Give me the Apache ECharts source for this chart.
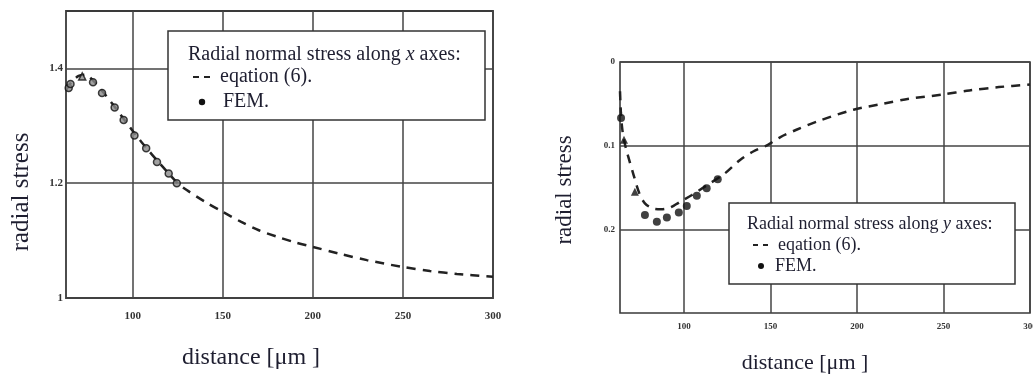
<!DOCTYPE html>
<html>
<head>
<meta charset="utf-8">
<script src="https://cdn.jsdelivr.net/npm/echarts@6/dist/echarts.min.js"></script>
<style>
html,body{margin:0;padding:0;background:#fff;}
#c{width:1033px;height:374px;}
</style>
</head>
<body>
<div id="c"></div>
<script>
// ---- Data ----
const leftXTicks = [100, 150, 200, 250, 300];
const leftYTicks = [1, 1.2, 1.4];
const rightXTicks = [100, 150, 200, 250, 300];
const rightYTicks = [0, 0.1, 0.2];

// Left: radial normal stress along x axes, equation (6)
const leftEqX = [63, 66, 70, 74, 78, 84, 90, 96, 102, 108, 114, 120, 125, 130, 140, 150, 160, 170, 180, 190, 200, 215, 230, 250, 265, 280, 300];
const leftEqY = [1.362, 1.376, 1.387, 1.389, 1.379, 1.357, 1.333, 1.308, 1.283, 1.26, 1.238, 1.217, 1.2, 1.188, 1.168, 1.15, 1.133, 1.118, 1.107, 1.097, 1.089, 1.077, 1.066, 1.054, 1.047, 1.042, 1.037];
// Left: FEM
const leftFemX = [64.5, 65.5, 72, 78, 83, 90, 95, 101, 107.5, 113.5, 120, 124.5];
const leftFemY = [1.366, 1.373, 1.386, 1.376, 1.357, 1.332, 1.31, 1.283, 1.261, 1.237, 1.217, 1.2];

// Right: radial normal stress along y axes, equation (6)
const rightEqX = [63, 63.5, 64.3, 65.5, 67.6, 71, 74, 77.4, 82, 87, 92, 97, 104.6, 112, 123.7, 132.4, 140, 148.5, 155.5, 165, 177, 198, 215, 230, 249, 265, 282, 300];
const rightEqY = [0.035, 0.06, 0.08, 0.095, 0.112, 0.136, 0.156, 0.169, 0.175, 0.176, 0.174, 0.168, 0.159, 0.149, 0.133, 0.117, 0.107, 0.099, 0.09, 0.081, 0.071, 0.057, 0.05, 0.044, 0.039, 0.034, 0.03, 0.027];
// Right: FEM
const rightFemX = [63.6, 65.3, 71.6, 77.4, 84.3, 90.1, 97, 101.6, 107.4, 113.1, 119.5];
const rightFemY = [0.067, 0.093, 0.155, 0.183, 0.191, 0.186, 0.18, 0.172, 0.16, 0.151, 0.14];

const zip = (xs, ys) => xs.map((x, i) => [x, ys[i]]);

const SERIF = 'Liberation Serif, Times New Roman, serif';
const INK = '#1e1e30';
const GRID = '#454545';

function xAxisCfg(gi, ticks, fs, margin) {
  return {
    type: 'value', gridIndex: gi, min: 63, max: 300,
    axisLine: {show: false},
    axisTick: {show: false, customValues: ticks},
    axisLabel: {customValues: ticks, fontFamily: SERIF, fontWeight: 'bold', fontSize: fs, color: '#333', margin: margin, hideOverlap: false},
    splitLine: {show: true, lineStyle: {color: GRID, width: 1.5}}
  };
}
function yAxisCfg(gi, ticks, min, max, inverse, fs, margin) {
  return {
    type: 'value', gridIndex: gi, min: min, max: max, inverse: inverse,
    axisLine: {show: false},
    axisTick: {show: false, customValues: ticks},
    axisLabel: {customValues: ticks, fontFamily: SERIF, fontWeight: 'bold', fontSize: fs, color: '#333', margin: margin},
    splitLine: {show: true, lineStyle: {color: GRID, width: 1.5}}
  };
}

const chart = echarts.init(document.getElementById('c'), null, {renderer: 'canvas'});

const option = {
  backgroundColor: '#fff',
  animation: false,
  grid: [
    {left: 66, top: 11, width: 427, height: 287, outerBoundsMode: 'none', containLabel: false, show: true, borderColor: '#3a3a3a', borderWidth: 1.8, backgroundColor: 'transparent'},
    {left: 620, top: 62, width: 410, height: 251, outerBoundsMode: 'none', containLabel: false, show: true, borderColor: '#3a3a3a', borderWidth: 1.6, backgroundColor: 'transparent'}
  ],
  xAxis: [
    xAxisCfg(0, leftXTicks, 11, 13),
    xAxisCfg(1, rightXTicks, 9, 9)
  ],
  yAxis: [
    yAxisCfg(0, leftYTicks, 1, 1.5, false, 11, 3),
    yAxisCfg(1, rightYTicks, 0, 0.3, true, 9, 5)
  ],
  series: [
    {
      name: 'eqation (6).', type: 'line', xAxisIndex: 0, yAxisIndex: 0,
      data: zip(leftEqX, leftEqY), showSymbol: false, smooth: 0.3,
      lineStyle: {color: '#222', width: 2.5, type: [9, 7]}, z: 3
    },
    {
      name: 'FEM.', type: 'scatter', xAxisIndex: 0, yAxisIndex: 0,
      data: zip(leftFemX, leftFemY),
      symbol: (v, p) => (p.dataIndex === 2 ? 'triangle' : 'circle'),
      symbolSize: 7,
      itemStyle: {color: '#8a8a8a', borderColor: '#111', borderWidth: 1.5}, z: 4
    },
    {
      name: 'eqation (6).', type: 'line', xAxisIndex: 1, yAxisIndex: 1,
      data: zip(rightEqX, rightEqY), showSymbol: false, smooth: 0.3,
      lineStyle: {color: '#222', width: 2.5, type: [9, 7]}, z: 3
    },
    {
      name: 'FEM.', type: 'scatter', xAxisIndex: 1, yAxisIndex: 1,
      data: zip(rightFemX, rightFemY),
      symbol: (v, p) => ((p.dataIndex === 1 || p.dataIndex === 2) ? 'triangle' : 'circle'),
      symbolSize: 8,
      itemStyle: {color: '#111'}, z: 4
    }
  ],
  graphic: [
    // axis titles
    {type: 'text', x: 21, y: 192, rotation: Math.PI / 2, z: 50,
      style: {text: 'radial stress', font: '25px ' + SERIF, fill: INK, align: 'center', verticalAlign: 'middle'}},
    {type: 'text', x: 251, y: 358, z: 50,
      style: {text: 'distance [μm ]', font: '24px ' + SERIF, fill: INK, align: 'center', verticalAlign: 'middle'}},
    {type: 'text', x: 565, y: 190, rotation: Math.PI / 2, z: 50,
      style: {text: 'radial stress', font: '23px ' + SERIF, fill: INK, align: 'center', verticalAlign: 'middle'}},
    {type: 'text', x: 805, y: 363, z: 50,
      style: {text: 'distance [μm ]', font: '22px ' + SERIF, fill: INK, align: 'center', verticalAlign: 'middle'}},

    // left legend
    {type: 'rect', z: 100, shape: {x: 168, y: 31, width: 317, height: 89},
      style: {fill: '#fff', stroke: '#333', lineWidth: 1.5}},
    {type: 'text', z: 101, x: 188, y: 55,
      style: {text: 'Radial normal stress along {i|x} axes:', font: '20px ' + SERIF, fill: INK, verticalAlign: 'middle',
        rich: {i: {fontStyle: 'italic', fontFamily: SERIF, fontSize: 20, fill: INK}}}},
    {type: 'line', z: 101, shape: {x1: 193, y1: 77, x2: 211, y2: 77},
      style: {stroke: '#222', lineWidth: 2.2, lineDash: [6, 5]}},
    {type: 'text', z: 101, x: 220, y: 77,
      style: {text: 'eqation (6).', font: '20px ' + SERIF, fill: INK, verticalAlign: 'middle'}},
    {type: 'circle', z: 101, shape: {cx: 202, cy: 102, r: 3.2}, style: {fill: '#111'}},
    {type: 'text', z: 101, x: 223, y: 102,
      style: {text: 'FEM.', font: '20px ' + SERIF, fill: INK, verticalAlign: 'middle'}},

    // right legend
    {type: 'rect', z: 100, shape: {x: 729, y: 203, width: 286, height: 81},
      style: {fill: '#fff', stroke: '#333', lineWidth: 1.5}},
    {type: 'text', z: 101, x: 747, y: 224,
      style: {text: 'Radial normal stress along {i|y} axes:', font: '18px ' + SERIF, fill: INK, verticalAlign: 'middle',
        rich: {i: {fontStyle: 'italic', fontFamily: SERIF, fontSize: 18, fill: INK}}}},
    {type: 'line', z: 101, shape: {x1: 753, y1: 245, x2: 770, y2: 245},
      style: {stroke: '#222', lineWidth: 2.2, lineDash: [5, 5]}},
    {type: 'text', z: 101, x: 778, y: 245,
      style: {text: 'eqation (6).', font: '18px ' + SERIF, fill: INK, verticalAlign: 'middle'}},
    {type: 'circle', z: 101, shape: {cx: 761, cy: 266, r: 3}, style: {fill: '#111'}},
    {type: 'text', z: 101, x: 775, y: 266,
      style: {text: 'FEM.', font: '18px ' + SERIF, fill: INK, verticalAlign: 'middle'}}
  ]
};
chart.setOption(option);
</script>
</body>
</html>
